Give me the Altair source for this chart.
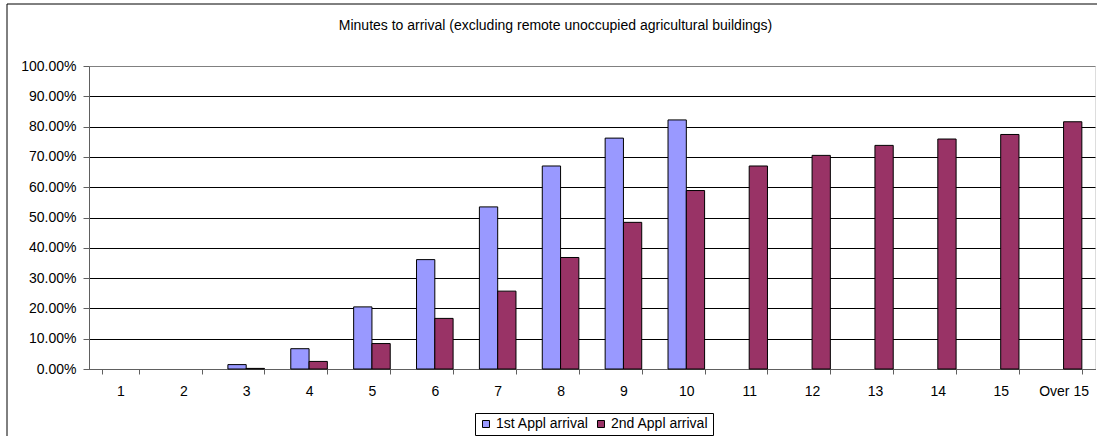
import altair as alt
import pandas as pd

# Minutes to arrival categories
minutes = ["1", "2", "3", "4", "5", "6", "7", "8", "9", "10",
           "11", "12", "13", "14", "15", "Over 15"]

# Cumulative share of incidents reached within each minute
first_appl = [0.0, 0.0, 0.0145, 0.067, 0.205, 0.361, 0.535, 0.670, 0.762, 0.822,
              None, None, None, None, None, None]
second_appl = [0.0, 0.0, 0.002, 0.025, 0.084, 0.167, 0.257, 0.368, 0.484, 0.589,
               0.670, 0.705, 0.738, 0.759, 0.774, 0.816]

series_names = ["1st Appl arrival", "2nd Appl arrival"]
series_colors = ["#9999FF", "#993366"]
y_ticks = [0.0, 0.1, 0.2, 0.3, 0.4, 0.5, 0.6, 0.7, 0.8, 0.9, 1.0]

title_text = "Minutes to arrival (excluding remote unoccupied agricultural buildings)"

rows = []
for name, vals in zip(series_names, [first_appl, second_appl]):
    for m, v in zip(minutes, vals):
        if v is not None:
            rows.append({"minutes": m, "series": name, "value": v})
df = pd.DataFrame(rows)

FONT = "Liberation Sans"
AXIS_GREY = "#606060"

bars = alt.Chart(df).transform_filter(
    "datum.value > 0"
).mark_bar(stroke="black", strokeWidth=1).encode(
    x=alt.X(
        "minutes:N",
        sort=minutes,
        scale=alt.Scale(domain=minutes, paddingInner=0.418, paddingOuter=0.209),
        axis=alt.Axis(
            title=None, labelAngle=0, tickBand="extent", tickSize=5,
            labelPadding=10, labelFontSize=14, labelColor="black", labelFont=FONT,
            domainColor=AXIS_GREY, tickColor=AXIS_GREY, grid=False,
        ),
    ),
    xOffset=alt.XOffset(
        "series:N",
        scale=alt.Scale(domain=series_names, paddingInner=0, paddingOuter=0),
    ),
    y=alt.Y(
        "value:Q",
        scale=alt.Scale(domain=[0, 1], nice=False),
        axis=alt.Axis(
            title=None, format=".2%", values=y_ticks, tickSize=6, labelPadding=7,
            labelFontSize=14, labelColor="black", labelFont=FONT,
            domainColor=AXIS_GREY, tickColor=AXIS_GREY,
            grid=True, gridWidth=1,
            gridColor={"condition": {"test": "datum.value >= 1", "value": "#808080"},
                       "value": "#000000"},
        ),
    ),
    color=alt.Color(
        "series:N",
        scale=alt.Scale(domain=series_names, range=series_colors),
        legend=alt.Legend(
            title=None, orient="none", legendX=386, legendY=347,
            direction="horizontal", strokeColor="black", fillColor="white",
            padding=4, symbolType="square", symbolSize=49,
            symbolStrokeColor="black", symbolStrokeWidth=1,
            labelFontSize=14, labelFont=FONT, labelColor="black",
            labelOffset=3, columnPadding=5, gridAlign="none",
        ),
    ),
)

# Outer chart frame
frame = alt.Chart(pd.DataFrame({"f": [0]})).mark_rect(
    fill="transparent", stroke="black", strokeWidth=1
).encode(
    x=alt.value(-82), x2=alt.value(1020),
    y=alt.value(-62), y2=alt.value(380),
)

chart = alt.layer(frame, bars).properties(
    width=1006,
    height=303,
    autosize=alt.AutoSizeParams(type="none"),
    padding={"left": 89, "top": 66, "right": 2, "bottom": 67},
    title=alt.TitleParams(
        title_text, fontSize=14, fontWeight="normal", font=FONT, color="black",
        anchor="middle", frame="group", dx=-36.5, baseline="alphabetic", offset=-40,
    ),
).configure_view(
    fill="#C0C0C0", stroke="#808080", strokeWidth=1
).configure(
    background="white"
)

chart.save("out.html", embed_options={"renderer": "svg", "actions": False})
